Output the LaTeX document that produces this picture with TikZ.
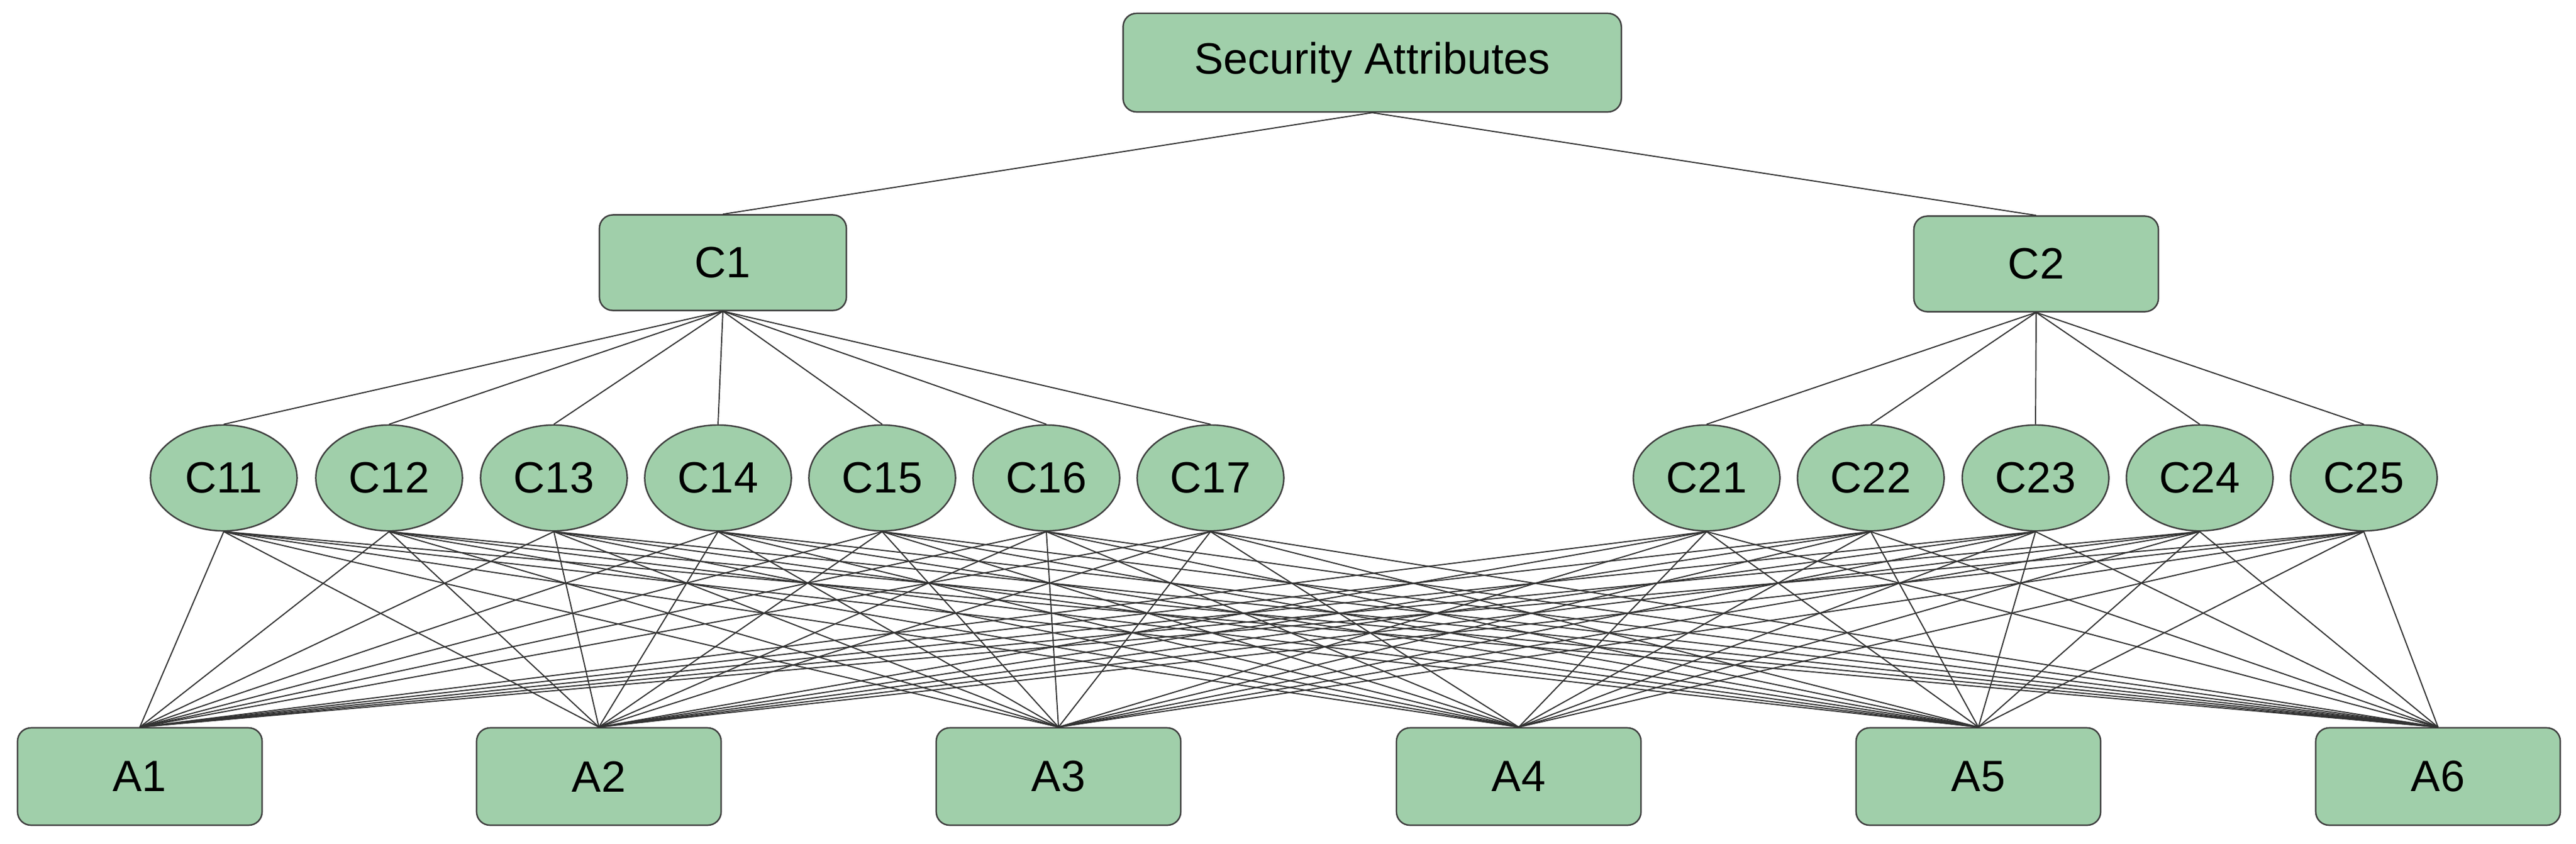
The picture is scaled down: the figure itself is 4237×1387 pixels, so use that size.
\documentclass[tikz,border=0pt]{standalone}
\usepackage{fontspec}
\setmainfont{Liberation Sans}
\usetikzlibrary{shapes.geometric}
\begin{document}
\begin{tikzpicture}[x=0.01cm,y=-0.01cm,
  box/.style={draw=black!75,fill=gfill,rounded corners=0.22cm,line width=0.7pt,minimum width=4.02cm,minimum height=1.6cm,font=\fontsize{20.5}{24}\selectfont,inner sep=0pt},
  ell/.style={draw=black!75,fill=gfill,ellipse,line width=0.7pt,minimum width=2.41cm,minimum height=1.74cm,font=\fontsize{20.5}{24}\selectfont,inner sep=0pt},
  edge/.style={draw=black!80,line width=0.55pt}]
\definecolor{gfill}{HTML}{A0CFAA}
\useasboundingbox (0,0) rectangle (4237,1387);
\node[box,minimum width=8.19cm,minimum height=1.62cm] (S) at (2257,103) {Security Attributes};
\node[box,minimum width=4.06cm,minimum height=1.57cm] (C1) at (1189,432) {C1};
\node[box,minimum width=4.02cm,minimum height=1.57cm] (C2) at (3349,434) {C2};
\foreach \n/\x in {11/368,12/640,13/911,14/1181,15/1451,16/1721,17/1991,21/2807,22/3077,23/3348,24/3618,25/3888}
  \node[ell] (C\n) at (\x,786) {C\n};
\foreach \n/\x in {1/230,2/985,3/1741,4/2498,5/3254,6/4010}
  \node[box] (A\n) at (\x,1277) {A\n};
\draw[edge] (S.south) -- (C1.north);
\draw[edge] (S.south) -- (C2.north);
\foreach \n in {11,...,17} \draw[edge] (C1.south) -- (C\n.north);
\foreach \n in {21,...,25} \draw[edge] (C2.south) -- (C\n.north);
\foreach \n in {11,...,17,21,22,23,24,25}
  \foreach \a in {1,...,6}
    \draw[edge] (C\n.south) -- (A\a.north);
\end{tikzpicture}
\end{document}
